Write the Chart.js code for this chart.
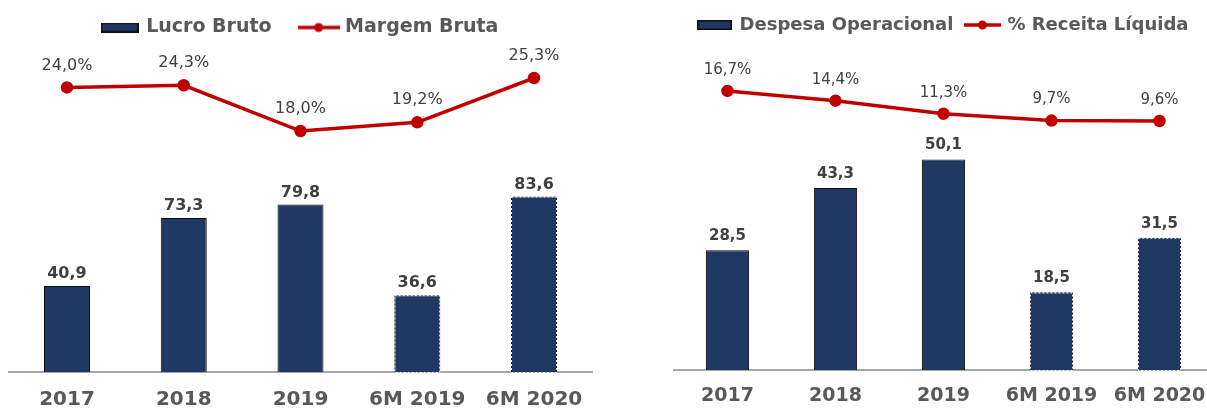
<!DOCTYPE html>
<html>
<head>
<meta charset="utf-8">
<script src="https://cdn.jsdelivr.net/npm/chart.js@4.4.1/dist/chart.umd.min.js"></script>
<style>
    html, body { margin: 0; padding: 0; background: #fff; overflow: hidden; width: 1207px; height: 408px; }
    .box { position: absolute; top: 0; }
    #leftBox { left: 0; width: 595px; height: 428px; }
    #rightBox { left: 660px; width: 560px; height: 422px; }
</style>
</head>
<body>
<div class="box" id="leftBox"><canvas id="leftChart"></canvas></div>
<div class="box" id="rightBox"><canvas id="rightChart"></canvas></div>
<script>
const periods = ["2017", "2018", "2019", "6M 2019", "6M 2020"];
const lucroBruto = [40.9, 73.3, 79.8, 36.6, 83.6];
const margemBruta = [24.0, 24.3, 18.0, 19.2, 25.3];
const despesaOperacional = [28.5, 43.3, 50.1, 18.5, 31.5];
const receitaLiquidaPct = [16.7, 14.4, 11.3, 9.7, 9.6];
// half-year columns get a dashed outline
const partialPeriods = [3, 4];

const NAVY = "#1f3864";
const RED = "#c00000";
const BAR_EDGE = "#0d0d0d";
const TEXT_GRAY = "#595959";
const LABEL_GRAY = "#404040";
const AXIS_GRAY = "#a6a6a6";

Chart.defaults.font.family = "'DejaVu Sans', Verdana, sans-serif";

function fmt(v) {
    return v.toFixed(1).replace(".", ",");
}

function barSwatch(w, h) {
    const c = document.createElement("canvas");
    c.width = w;
    c.height = h;
    const ctx = c.getContext("2d");
    ctx.fillStyle = BAR_EDGE;
    ctx.fillRect(0, 0, w, h);
    ctx.fillStyle = NAVY;
    ctx.fillRect(1.5, 1.5, w - 3, h - 3);
    return c;
}

function lineSwatch(w, h) {
    const c = document.createElement("canvas");
    c.width = w;
    c.height = h;
    const ctx = c.getContext("2d");
    ctx.strokeStyle = RED;
    ctx.lineWidth = 3.5;
    ctx.beginPath();
    ctx.moveTo(0, h / 2);
    ctx.lineTo(w, h / 2);
    ctx.stroke();
    ctx.fillStyle = RED;
    ctx.beginPath();
    ctx.arc(w / 2, h / 2, 4.5, 0, Math.PI * 2);
    ctx.fill();
    return c;
}

const valueLabels = {
    id: "valueLabels",
    afterDatasetsDraw(chart) {
        const ctx = chart.ctx;
        chart.data.datasets.forEach((ds, i) => {
            const meta = chart.getDatasetMeta(i);
            const cfg = ds.valueLabel;
            if (!cfg) {
                return;
            }
            ctx.save();
            ctx.font = cfg.font;
            ctx.fillStyle = cfg.color;
            ctx.textAlign = "center";
            ctx.textBaseline = "middle";
            meta.data.forEach((el, j) => {
                ctx.fillText(fmt(ds.data[j]) + cfg.suffix, el.x, el.y - cfg.offset);
            });
            ctx.restore();
        });
    },
};

const partialOutline = {
    id: "partialOutline",
    afterDatasetDraw(chart, args) {
        const ds = chart.data.datasets[args.index];
        if (ds.type !== "bar") {
            return;
        }
        const ctx = chart.ctx;
        ctx.save();
        ctx.strokeStyle = "#ffffff";
        ctx.lineWidth = 1;
        ctx.setLineDash([2, 2]);
        partialPeriods.forEach((j) => {
            const el = args.meta.data[j];
            const { x, y, base, width } = el.getProps(["x", "y", "base", "width"], true);
            ctx.strokeRect(x - width / 2 + 0.5, y + 0.5, width - 1, base - y);
        });
        ctx.restore();
    },
};

function buildChart(canvasId, cfg) {
    return new Chart(document.getElementById(canvasId), {
        type: "bar",
        data: {
            labels: periods,
            datasets: [
                {
                    type: "bar",
                    label: cfg.barLabel,
                    data: cfg.barData,
                    yAxisID: "y",
                    backgroundColor: NAVY,
                    borderColor: BAR_EDGE,
                    borderWidth: 1,
                    categoryPercentage: 1,
                    barPercentage: cfg.barPct,
                    valueLabel: { font: `bold ${cfg.barFont}px 'DejaVu Sans'`, color: LABEL_GRAY, suffix: "", offset: cfg.barOffset },
                },
                {
                    type: "line",
                    label: cfg.lineLabel,
                    data: cfg.lineData,
                    yAxisID: "y1",
                    borderColor: RED,
                    backgroundColor: RED,
                    borderWidth: 3.5,
                    pointRadius: 4.5,
                    pointBackgroundColor: RED,
                    pointBorderColor: RED,
                    tension: 0,
                    fill: false,
                    valueLabel: { font: `${cfg.lineFont}px 'DejaVu Sans'`, color: LABEL_GRAY, suffix: "%", offset: cfg.lineOffset },
                },
            ],
        },
        options: {
            responsive: true,
            maintainAspectRatio: false,
            animation: false,
            layout: {
                autoPadding: false,
                padding: cfg.padding,
            },
            plugins: {
                tooltip: { enabled: false },
                legend: {
                    display: true,
                    position: "top",
                    labels: {
                        usePointStyle: true,
                        pointStyleWidth: cfg.swatchW,
                        boxHeight: 18,
                        padding: cfg.legendPad,
                        color: TEXT_GRAY,
                        font: { size: cfg.legendFont, weight: "bold" },
                        generateLabels: (chart) => chart.data.datasets.map((ds, i) => ({
                            text: ds.label,
                            pointStyle: ds.type === "line" ? lineSwatch(cfg.lineSwatchW, 12) : barSwatch(cfg.barSwatchW, 10),
                            fontColor: TEXT_GRAY,
                            fillStyle: "rgba(0,0,0,0)",
                            strokeStyle: "rgba(0,0,0,0)",
                            lineWidth: 0,
                            hidden: false,
                            datasetIndex: i,
                        })),
                    },
                },
            },
            scales: {
                x: {
                    offset: true,
                    grid: { display: false, drawTicks: false },
                    border: { display: true, color: AXIS_GRAY, width: 2 },
                    ticks: {
                        color: TEXT_GRAY,
                        padding: 2,
                        font: { size: cfg.tickFont, weight: "bold", lineHeight: cfg.tickLine },
                    },
                },
                y: {
                    display: false,
                    min: 0,
                    max: cfg.yMax,
                },
                y1: {
                    display: false,
                    min: cfg.y1Min,
                    max: cfg.y1Max,
                },
            },
        },
        plugins: [partialOutline, valueLabels],
    });
}

buildChart("leftChart", {
    barLabel: "Lucro Bruto",
    lineLabel: "Margem Bruta",
    barData: lucroBruto,
    lineData: margemBruta,
    barPct: 0.394,
    barFont: 16,
    lineFont: 16,
    barOffset: 12,
    lineOffset: 22,
    tickFont: 20,
    tickLine: "52px",
    legendFont: 19,
    padding: { top: -12, left: 8.6, right: 2.6, bottom: 0 },
    legendPad: 30,
    swatchW: 34,
    barSwatchW: 38,
    lineSwatchW: 42,
    yMax: 154.76,
    y1Min: -15.19,
    y1Max: 29.57,
});

buildChart("rightChart", {
    barLabel: "Despesa Operacional",
    lineLabel: "% Receita Líquida",
    barData: despesaOperacional,
    lineData: receitaLiquidaPct,
    barPct: 0.4,
    barFont: 15,
    lineFont: 15,
    barOffset: 14,
    lineOffset: 21,
    tickFont: 19,
    tickLine: "48px",
    legendFont: 18,
    padding: { top: 3, left: 13.5, right: 6.5, bottom: 0 },
    legendPad: 13,
    swatchW: 32,
    barSwatchW: 35,
    lineSwatchW: 37,
    yMax: 77.6,
    y1Min: -49.27,
    y1Max: 27.8,
});
</script>
</body>
</html>
